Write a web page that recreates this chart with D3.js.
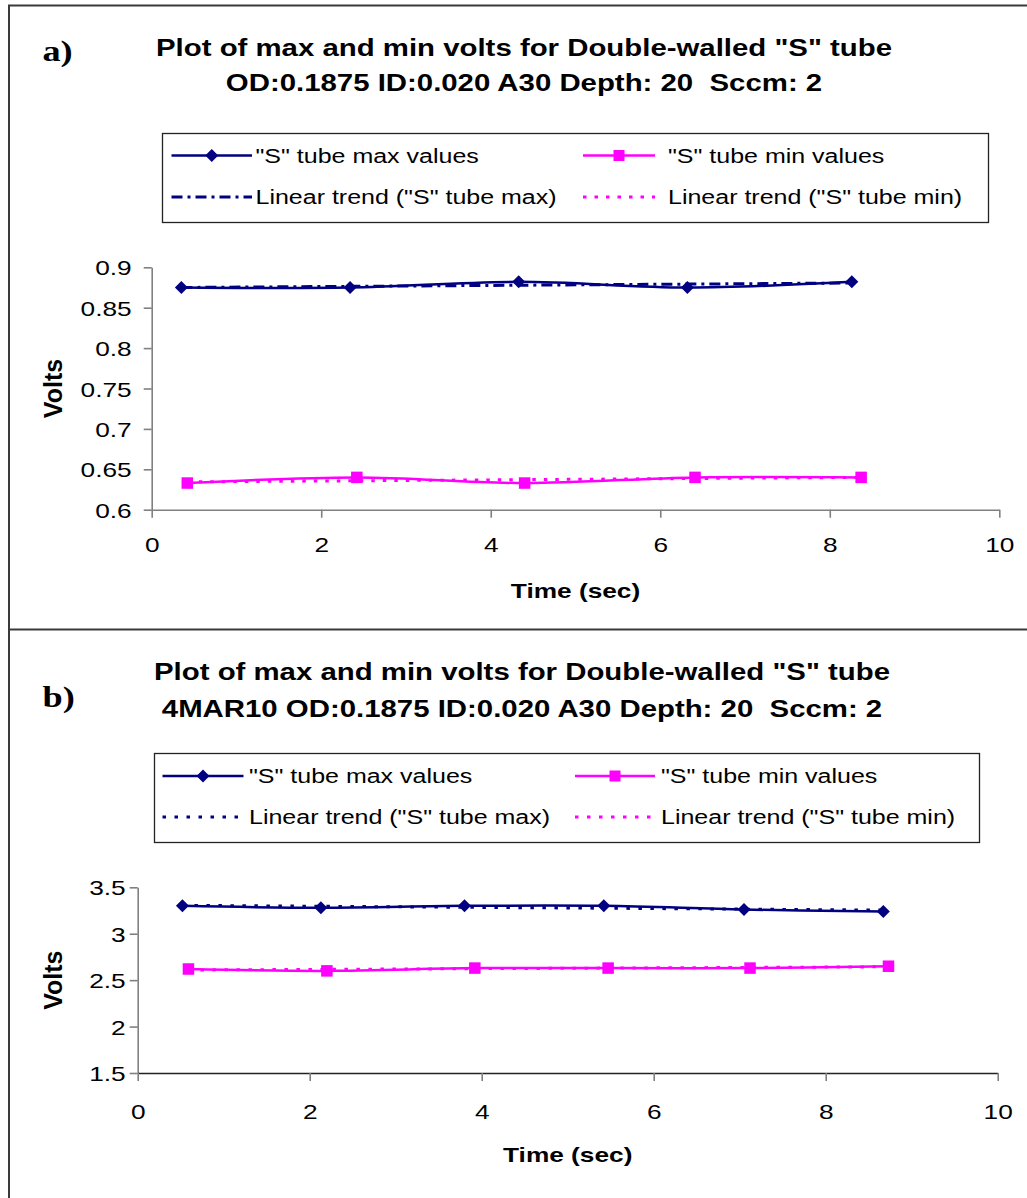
<!DOCTYPE html>
<html>
<head>
<meta charset="utf-8">
<script src="https://cdn.jsdelivr.net/npm/d3@7"></script>
<style>
  html, body { margin: 0; padding: 0; background: #fff; }
  svg { display: block; }
  svg text { white-space: pre; }
</style>
</head>
<body>
<script>
// ---- Data: panel a ----
const timeMaxA  = [0.35, 2.34, 4.33, 6.32, 8.26];
const voltsMaxA = [0.875, 0.875, 0.882, 0.875, 0.882];
const timeMinA  = [0.42, 2.42, 4.40, 6.41, 8.37];
const voltsMinA = [0.633, 0.640, 0.633, 0.640, 0.640];

// ---- Data: panel b ----
const timeMaxB  = [0.52, 2.13, 3.80, 5.42, 7.05, 8.67];
const voltsMaxB = [3.30, 3.28, 3.30, 3.30, 3.26, 3.24];
const timeMinB  = [0.59, 2.20, 3.92, 5.47, 7.12, 8.73];
const voltsMinB = [2.62, 2.60, 2.63, 2.63, 2.63, 2.65];

// ---- Axis ticks and labels ----
const xTicks  = [0, 2, 4, 6, 8, 10];
const yTicksA = [0.6, 0.65, 0.7, 0.75, 0.8, 0.85, 0.9];
const yTicksB = [1.5, 2, 2.5, 3, 3.5];
const yDomainA = [0.6, 0.9];
const yDomainB = [1.5, 3.5];
const xDomain = [0, 10];

const titleA = ['Plot of max and min volts for Double-walled "S" tube',
                'OD:0.1875 ID:0.020 A30 Depth: 20  Sccm: 2'];
const titleB = ['Plot of max and min volts for Double-walled "S" tube',
                '4MAR10 OD:0.1875 ID:0.020 A30 Depth: 20  Sccm: 2'];
const legendNames = ['"S" tube max values', '"S" tube min values',
                     'Linear trend ("S" tube max)', 'Linear trend ("S" tube min)'];
const xTitle = 'Time (sec)';
const yTitle = 'Volts';

// ---- Styling ----
const SX = 1.25;               // horizontal text stretch
const SANS = '"Liberation Sans", Arial, sans-serif';
const SERIF = '"Liberation Serif", "Times New Roman", serif';
const NAVY = '#000080';
const MAGENTA = '#FF00FF';

const W = 1027, H = 1198;
const svg = d3.select('body').append('svg').attr('width', W).attr('height', H);
svg.append('rect').attr('width', W).attr('height', H).attr('fill', '#fff');

// frame lines
const frame = svg.append('g').attr('stroke', '#3a3a3a').attr('stroke-width', 2).attr('fill', 'none');
frame.append('line').attr('x1', 9).attr('x2', 9).attr('y1', 5).attr('y2', H);
frame.append('line').attr('x1', 8).attr('x2', W).attr('y1', 5.5).attr('y2', 5.5);
frame.append('line').attr('x1', 8).attr('x2', W).attr('y1', 629.5).attr('y2', 629.5);

function stext(parent, x, y, str, opt) {
  const g = parent.append('g').attr('transform', `translate(${x},${y}) scale(${opt.sx || SX},1)`);
  return g.append('text')
    .attr('text-anchor', opt.anchor || 'start')
    .attr('font-family', opt.family || SANS)
    .attr('font-weight', opt.weight || 'normal')
    .attr('font-size', opt.size)
    .attr('fill', '#000')
    .text(str);
}

function linearFit(xs, ys) {
  const n = xs.length;
  const mx = d3.mean(xs), my = d3.mean(ys);
  let sxy = 0, sxx = 0;
  for (let i = 0; i < n; i++) { sxy += (xs[i] - mx) * (ys[i] - my); sxx += (xs[i] - mx) ** 2; }
  const m = sxy / sxx, b = my - m * mx;
  const x0 = d3.min(xs), x1 = d3.max(xs);
  return [[x0, m * x0 + b], [x1, m * x1 + b]];
}

function diamond(sel, s) {
  return sel.append('path').attr('d', `M0,${-s}L${s},0L0,${s}L${-s},0Z`).attr('fill', NAVY);
}
function square(sel, s) {
  return sel.append('rect').attr('x', -s / 2).attr('y', -s / 2).attr('width', s).attr('height', s).attr('fill', MAGENTA);
}

function drawPanel(p) {
  const g = svg.append('g');
  const x = d3.scaleLinear().domain(xDomain).range(p.xRange);
  const y = d3.scaleLinear().domain(p.yDomain).range(p.yRange);

  // label and title
  stext(g, p.labelPos[0], p.labelPos[1], p.label, { size: 29, weight: 'bold', family: SERIF });
  p.title.forEach((t, i) => stext(g, p.titleX, p.titleY[i], t, { size: 23.5, weight: 'bold', anchor: 'middle' }));

  // legend
  const L = p.legend;
  g.append('rect').attr('x', L.box[0] + 0.5).attr('y', L.box[1] + 0.5)
    .attr('width', L.box[2] - L.box[0]).attr('height', L.box[3] - L.box[1])
    .attr('fill', '#fff').attr('stroke', '#222').attr('stroke-width', 1.3);
  const items = [
    { col: 0, row: 0, color: NAVY, dash: null, marker: 'd' },
    { col: 1, row: 0, color: MAGENTA, dash: null, marker: 's' },
    { col: 0, row: 1, color: NAVY, dash: p.maxDash, marker: null },
    { col: 1, row: 1, color: MAGENTA, dash: p.minDash, marker: null }
  ];
  items.forEach((it, i) => {
    const [sx0, sx1, tx] = L.cols[it.col];
    const base = L.rows[it.row];
    const ly = base - 7;
    g.append('line').attr('x1', sx0).attr('x2', sx1).attr('y1', ly).attr('y2', ly)
      .attr('stroke', it.color).attr('stroke-width', it.dash ? 3 : 2.5)
      .attr('stroke-dasharray', it.dash);
    if (it.marker) {
      const m = g.append('g').attr('transform', `translate(${(sx0 + sx1) / 2},${ly})`);
      if (it.marker === 'd') diamond(m, 6.5); else square(m, 11);
    }
    stext(g, tx, base, legendNames[i], { size: 20 });
  });

  // axes
  const yAxis = d3.axisLeft(y).tickValues(p.yTicks).tickSize(8).tickSizeOuter(0)
    .tickFormat(d3.format(''));
  const ya = g.append('g').attr('transform', `translate(${p.xRange[0]},0)`).call(yAxis);
  ya.select('.domain').attr('stroke', '#808080').attr('stroke-width', 1.6);
  ya.selectAll('.tick line').attr('stroke', '#808080').attr('stroke-width', 1.6);
  ya.selectAll('.tick text')
    .attr('font-family', SANS).attr('font-size', 21).attr('fill', '#000')
    .attr('x', -(8 + p.yPad) / SX).attr('dy', '0.36em')
    .attr('transform', `scale(${SX},1)`);

  const xAxis = d3.axisBottom(x).tickValues(xTicks).tickSize(8).tickSizeOuter(0)
    .tickFormat(d3.format('d'));
  const xa = g.append('g').attr('transform', `translate(0,${p.yRange[0]})`).call(xAxis);
  xa.select('.domain').attr('stroke', p.xAxisColor).attr('stroke-width', 1.6);
  xa.selectAll('.tick line').attr('stroke', '#808080').attr('stroke-width', 1.6);
  xa.selectAll('.tick text')
    .attr('font-family', SANS).attr('font-size', 21).attr('fill', '#000')
    .attr('y', p.xLabelBase - p.yRange[0]).attr('dy', null)
    .attr('transform', `scale(${SX},1)`);

  // axis titles
  stext(g, (p.xRange[0] + p.xRange[1]) / 2, p.xTitleBase, xTitle, { size: 21, weight: 'bold', anchor: 'middle' });
  g.append('text')
    .attr('transform', `translate(61.5,${(p.yRange[0] + p.yRange[1]) / 2}) rotate(-90)`)
    .attr('text-anchor', 'middle').attr('font-family', SANS).attr('font-weight', 'bold')
    .attr('font-size', 25).text(yTitle);

  // series
  const line = d3.line().x(d => x(d[0])).y(d => y(d[1])).curve(d3.curveCardinal.tension(0));
  const straight = d3.line().x(d => x(d[0])).y(d => y(d[1]));
  const maxPts = p.maxT.map((t, i) => [t, p.maxV[i]]);
  const minPts = p.minT.map((t, i) => [t, p.minV[i]]);

  g.append('path').attr('d', line(maxPts)).attr('fill', 'none').attr('stroke', NAVY).attr('stroke-width', 2.5);
  g.append('path').attr('d', line(minPts)).attr('fill', 'none').attr('stroke', MAGENTA).attr('stroke-width', 2.5);

  // linear trend lines
  g.append('path').attr('d', straight(linearFit(p.maxT, p.maxV))).attr('fill', 'none')
    .attr('stroke', NAVY).attr('stroke-width', 3).attr('stroke-dasharray', p.maxDash);
  g.append('path').attr('d', straight(linearFit(p.minT, p.minV))).attr('fill', 'none')
    .attr('stroke', MAGENTA).attr('stroke-width', 3).attr('stroke-dasharray', p.minDash);

  // markers
  maxPts.forEach(d => diamond(g.append('g').attr('transform', `translate(${x(d[0])},${y(d[1])})`), 6.5));
  minPts.forEach(d => square(g.append('g').attr('transform', `translate(${x(d[0])},${y(d[1])})`), 11.5));
}

drawPanel({
  label: 'a)', labelPos: [42.5, 61],
  title: titleA, titleX: 524, titleY: [56, 91],
  legend: { box: [162, 133, 988, 222], rows: [162.5, 204], cols: [[171.5, 252, 255.5], [583, 655, 668]] },
  xRange: [151.7, 999.3], yRange: [509.7, 267.3], yDomain: yDomainA, yTicks: yTicksA, yPad: 12,
  xLabelBase: 552.5, xTitleBase: 598, xAxisColor: '#808080',
  maxT: timeMaxA, maxV: voltsMaxA, minT: timeMinA, minV: voltsMinA,
  maxDash: '11,5,3,5', minDash: '3.5,8'
});

drawPanel({
  label: 'b)', labelPos: [42.5, 707],
  title: titleB, titleX: 522, titleY: [680, 717],
  legend: { box: [154, 753, 979, 842], rows: [783, 824], cols: [[162.5, 243.5, 249], [575, 655, 661]] },
  xRange: [137.7, 997.7], yRange: [1073, 887.3], yDomain: yDomainB, yTicks: yTicksB, yPad: 4,
  xLabelBase: 1119.5, xTitleBase: 1161.7, xAxisColor: '#222',
  maxT: timeMaxB, maxV: voltsMaxB, minT: timeMinB, minV: voltsMinB,
  maxDash: '3.5,8.5', minDash: '3.5,8.5'
});
</script>
</body>
</html>
